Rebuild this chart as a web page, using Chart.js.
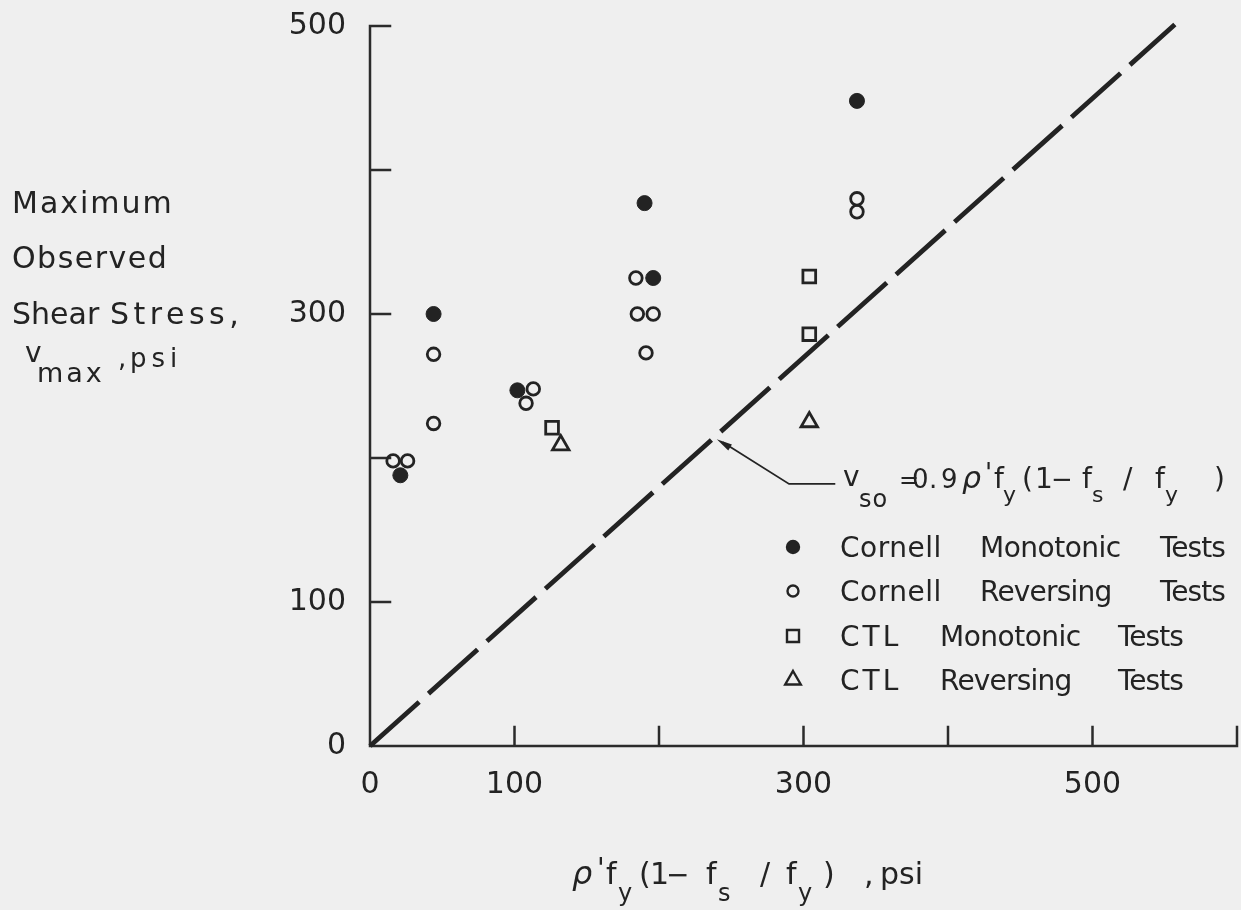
<!DOCTYPE html>
<html>
<head>
<meta charset="utf-8">
<script src="https://cdn.jsdelivr.net/npm/chart.js@4.4.1/dist/chart.umd.min.js"></script>
<style>
  html, body { margin: 0; padding: 0; background: #efefef; }
  #wrap { width: 1241px; height: 910px; }
</style>
</head>
<body>
<div id="wrap"><canvas id="shearChart" width="1241" height="910"></canvas></div>
<script>
// Cornell monotonic tests (filled circles)
const cornellMonoX = [21, 44, 102, 190, 196, 337];
const cornellMonoY = [188, 300, 247, 377, 325, 448];

// Cornell reversing tests (open circles)
const cornellRevX = [16, 26, 44, 44, 108, 113, 184, 185, 196, 191, 337, 337];
const cornellRevY = [198, 198, 272, 224, 238, 248, 325, 300, 300, 273, 380, 371];

// CTL monotonic tests (squares)
const ctlMonoX = [126, 304, 304];
const ctlMonoY = [221, 326, 286];

// CTL reversing tests (triangles)
const ctlRevX = [132, 304];
const ctlRevY = [209, 225];

// v_so = 0.9 rho' fy (1 - fs/fy)
const lineX = [0, 557];
const lineY = [0, 501];

// axis ticks and the labels printed under / beside them
const xTicks = [0, 100, 200, 300, 400, 500, 600];
const xLabels = ['0', '100', '', '300', '', '500', ''];
const yTicks = [0, 100, 200, 300, 400, 500];
const yLabels = ['0', '100', '', '300', '', '500'];

const INK = '#232323';
const PAPER = '#efefef';
const FONT = '"DejaVu Sans", sans-serif';

function pts(xs, ys) {
  return xs.map((x, i) => ({ x: x, y: ys[i] }));
}

// draws a list of text pieces: [text, x, y, size, italic, spacing]
function drawPieces(ctx, pieces) {
  ctx.save();
  ctx.fillStyle = INK;
  ctx.textBaseline = 'alphabetic';
  ctx.textAlign = 'left';
  pieces.forEach(p => {
    ctx.font = (p[4] ? 'italic ' : '') + p[3] + 'px ' + FONT;
    ctx.letterSpacing = (p[5] || 0) + 'px';
    ctx.fillText(p[0], p[1], p[2]);
  });
  ctx.restore();
}

// axis lines with inward ticks
const axesPlugin = {
  id: 'axes',
  beforeDatasetsDraw(chart) {
    const { ctx, chartArea: a, scales } = chart;
    ctx.save();
    ctx.strokeStyle = '#2b2b2b';
    ctx.lineWidth = 2.5;
    ctx.lineCap = 'square';
    ctx.beginPath();
    ctx.moveTo(a.left, a.top);
    ctx.lineTo(a.left, a.bottom);
    ctx.lineTo(a.right, a.bottom);
    yTicks.forEach(v => {
      const y = scales.y.getPixelForValue(v);
      ctx.moveTo(a.left, y);
      ctx.lineTo(a.left + 20, y);
    });
    xTicks.forEach(v => {
      const x = scales.x.getPixelForValue(v);
      ctx.moveTo(x, a.bottom);
      ctx.lineTo(x, a.bottom - 19);
    });
    ctx.stroke();
    ctx.restore();
  }
};

// leader arrow pointing at the line, in data units
const leaderTip = [240, 213];
const leaderKnee = [290, 182];
const leaderEnd = [322, 182];

const legendRows = [
  { style: 'circle', r: 6, fill: INK, words: [['Cornell', 840, 0.5], ['Monotonic', 980, -0.5], ['Tests', 1160, -1]] },
  { style: 'circle', r: 5.5, fill: PAPER, words: [['Cornell', 840, 0.5], ['Reversing', 980, -0.8], ['Tests', 1160, -1]] },
  { style: 'rect', r: 8.5, fill: PAPER, words: [['CTL', 840, 3], ['Monotonic', 940, -0.5], ['Tests', 1118, -1]] },
  { style: 'triangle', r: 9, fill: PAPER, words: [['CTL', 840, 3], ['Reversing', 940, -0.8], ['Tests', 1118, -1]] }
];
const legendRowY = [547, 591, 636, 680];

const textPlugin = {
  id: 'texts',
  afterDraw(chart) {
    const { ctx, scales } = chart;

    // y axis title
    drawPieces(ctx, [
      ['Maximum', 12, 213, 30, false, 2],
      ['Observed', 12, 268, 30, false, 1.5],
      ['Shear', 12, 324, 30, false, 0],
      ['Stress,', 110, 324, 30, false, 4.5],
      ['v', 25, 362, 28, false, 0],
      ['max', 37, 382, 27, false, 3],
      [',', 118, 367, 26, false, 0],
      ['psi', 130, 367, 26, false, 5]
    ]);

    // x axis title
    drawPieces(ctx, [
      ['\u03c1', 572, 884, 32, true, 0],
      ['\'', 597, 878, 28, false, 0],
      ['f', 606, 884, 30, false, 0],
      ['y', 618, 901, 24, false, 0],
      ['(', 639, 884, 30, false, 0],
      ['1', 650, 884, 30, false, 0],
      ['\u2212', 666, 884, 28, false, 0],
      ['f', 706, 884, 30, false, 0],
      ['s', 718, 901, 24, false, 0],
      ['/', 760, 884, 30, false, 0],
      ['f', 786, 884, 30, false, 0],
      ['y', 798, 901, 24, false, 0],
      [')', 823, 884, 30, false, 0],
      [',', 864, 884, 30, false, 0],
      ['psi', 880, 884, 30, false, 0]
    ]);

    // line formula
    drawPieces(ctx, [
      ['v', 843, 486, 28, false, 0],
      ['so', 859, 507, 24, false, 1],
      ['=', 899, 488, 24, false, 0],
      ['0', 912, 488, 26, false, 0],
      ['.', 929, 488, 26, false, 0],
      ['9', 941, 488, 26, false, 0],
      ['\u03c1', 962, 488, 30, true, 0],
      ['\'', 985, 482, 26, false, 0],
      ['f', 994, 488, 28, false, 0],
      ['y', 1003, 502, 22, false, 0],
      ['(', 1022, 488, 28, false, 0],
      ['1', 1035, 488, 28, false, 0],
      ['\u2212', 1051, 488, 26, false, 0],
      ['f', 1082, 488, 28, false, 0],
      ['s', 1092, 502, 22, false, 0],
      ['/', 1123, 488, 28, false, 0],
      ['f', 1155, 488, 28, false, 0],
      ['y', 1165, 502, 22, false, 0],
      [')', 1214, 488, 28, false, 0]
    ]);

    // leader with arrowhead
    const tx = scales.x.getPixelForValue(leaderTip[0]);
    const ty = scales.y.getPixelForValue(leaderTip[1]);
    const kx = scales.x.getPixelForValue(leaderKnee[0]);
    const ky = scales.y.getPixelForValue(leaderKnee[1]);
    const ex = scales.x.getPixelForValue(leaderEnd[0]);
    ctx.save();
    ctx.strokeStyle = INK;
    ctx.fillStyle = INK;
    ctx.lineWidth = 1.8;
    ctx.beginPath();
    ctx.moveTo(tx + 6, ty + 3);
    ctx.lineTo(kx, ky);
    ctx.lineTo(ex, ky);
    ctx.stroke();
    const ang = Math.atan2(ky - ty, kx - tx);
    ctx.beginPath();
    ctx.moveTo(tx, ty);
    ctx.lineTo(tx + 16 * Math.cos(ang - 0.22), ty + 16 * Math.sin(ang - 0.22));
    ctx.lineTo(tx + 16 * Math.cos(ang + 0.22), ty + 16 * Math.sin(ang + 0.22));
    ctx.closePath();
    ctx.fill();
    ctx.restore();

    // legend
    legendRows.forEach((row, i) => {
      const y = legendRowY[i];
      ctx.save();
      ctx.strokeStyle = INK;
      ctx.fillStyle = row.fill;
      ctx.lineWidth = 2.4;
      Chart.helpers.drawPoint(ctx, { pointStyle: row.style, radius: row.r, borderWidth: 2.4, rotation: 0 }, 793, y);
      ctx.restore();
      drawPieces(ctx, row.words.map(w => [w[0], w[1], y + 10, 28, false, w[2]]));
    });
  }
};

const tickFont = { family: FONT, size: 30 };

new Chart(document.getElementById('shearChart'), {
  type: 'scatter',
  data: {
    datasets: [
      {
        label: 'Cornell Monotonic Tests',
        data: pts(cornellMonoX, cornellMonoY),
        pointStyle: 'circle',
        pointRadius: 7.5,
        backgroundColor: INK,
        borderColor: INK,
        borderWidth: 1
      },
      {
        label: 'Cornell Reversing Tests',
        data: pts(cornellRevX, cornellRevY),
        pointStyle: 'circle',
        pointRadius: 6.3,
        backgroundColor: 'rgba(0,0,0,0)',
        borderColor: INK,
        borderWidth: 2.8
      },
      {
        label: 'CTL Monotonic Tests',
        data: pts(ctlMonoX, ctlMonoY),
        pointStyle: 'rect',
        pointRadius: 9,
        backgroundColor: 'rgba(0,0,0,0)',
        borderColor: INK,
        borderWidth: 2.8
      },
      {
        label: 'CTL Reversing Tests',
        data: pts(ctlRevX, ctlRevY),
        pointStyle: 'triangle',
        pointRadius: 9.5,
        backgroundColor: 'rgba(0,0,0,0)',
        borderColor: INK,
        borderWidth: 2.8
      },
      {
        label: 'v_so',
        data: pts(lineX, lineY),
        showLine: true,
        pointRadius: 0,
        borderColor: INK,
        borderWidth: 4.8,
        borderDash: [66, 12.5],
        clip: false
      }
    ]
  },
  options: {
    responsive: false,
    animation: false,
    events: [],
    layout: { autoPadding: false, padding: { top: 26, right: 4, left: 0, bottom: 0 } },
    plugins: {
      legend: { display: false },
      tooltip: { enabled: false }
    },
    scales: {
      x: {
        type: 'linear',
        min: 0,
        max: 600,
        afterBuildTicks: s => { s.ticks = xTicks.map(v => ({ value: v })); },
        afterFit: s => {
          s.height = 164;
          s.paddingLeft = 0;
          s.paddingRight = 0;
        },
        grid: { display: false, drawTicks: false },
        border: { display: false },
        ticks: {
          autoSkip: false,
          maxRotation: 0,
          padding: 21,
          color: INK,
          font: tickFont,
          callback: v => xLabels[xTicks.indexOf(v)] || ''
        }
      },
      y: {
        type: 'linear',
        min: 0,
        max: 500,
        afterBuildTicks: s => { s.ticks = yTicks.map(v => ({ value: v })); },
        afterFit: s => {
          s.width = 370;
          s.paddingTop = 0;
          s.paddingBottom = 0;
        },
        grid: { display: false, drawTicks: false },
        border: { display: false },
        ticks: {
          autoSkip: false,
          padding: 24,
          color: INK,
          font: tickFont,
          callback: v => yLabels[yTicks.indexOf(v)] || ''
        }
      }
    }
  },
  plugins: [axesPlugin, textPlugin]
});
</script>
</body>
</html>
